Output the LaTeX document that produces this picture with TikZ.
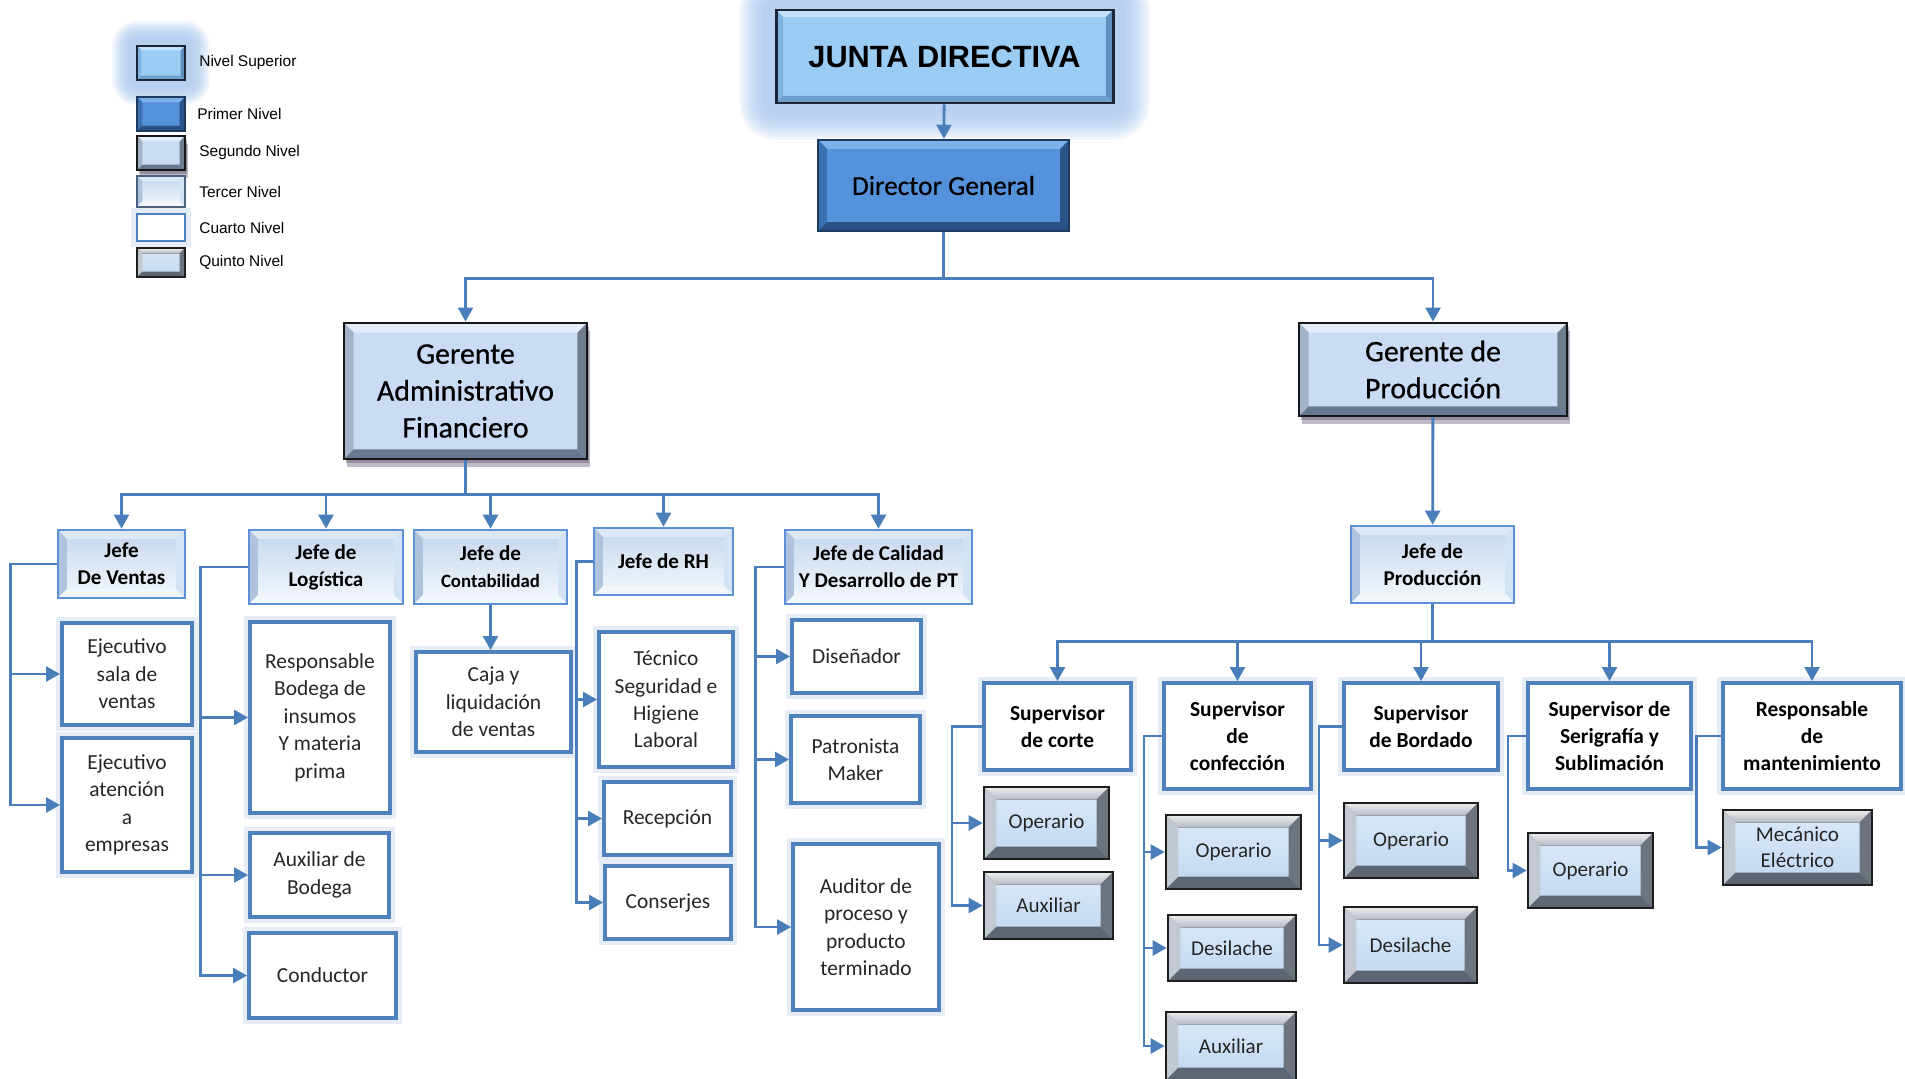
\documentclass[tikz,border=0pt]{standalone}
\usepackage{fontspec}
\setmainfont{Carlito}
\newfontfamily\arialfont{Liberation Sans}
\newfontfamily\heavyfont{Carlito}[FakeBold=0.6]
\usetikzlibrary{arrows.meta}

\newcommand{\pxu}{0.02cm}

% colours of the levels
\definecolor{lineblue}{HTML}{4A7EBB}
\definecolor{glowc}{HTML}{8FB9EC}
\definecolor{supface}{HTML}{9ACCF4}
\definecolor{supline}{HTML}{1C2538}
\definecolor{supt}{HTML}{C2E2FB}
\definecolor{supl}{HTML}{7FB2DE}
\definecolor{supr}{HTML}{5E8FBE}
\definecolor{supb}{HTML}{6F9FCC}
\definecolor{prface}{HTML}{5592DC}
\definecolor{prline}{HTML}{1E3A5F}
\definecolor{prt}{HTML}{7CB2EC}
\definecolor{prl}{HTML}{3D72B2}
\definecolor{prr}{HTML}{2B5588}
\definecolor{prb}{HTML}{2A5183}
\definecolor{sgface}{HTML}{C9DCF4}
\definecolor{sgline}{HTML}{161616}
\definecolor{sgt}{HTML}{E3EDF9}
\definecolor{sgl}{HTML}{A3B2C6}
\definecolor{sgr}{HTML}{6F7D8F}
\definecolor{sgb}{HTML}{687890}
\definecolor{sgshadow}{HTML}{4B3A5E}
\definecolor{tcline}{HTML}{5E92D6}
\definecolor{tcA}{HTML}{C4D6EC}
\definecolor{tcB}{HTML}{F4F8FD}
\definecolor{tct}{HTML}{DCE8F5}
\definecolor{tcl}{HTML}{AFC3DC}
\definecolor{tcr}{HTML}{D3E3F4}
\definecolor{tcb}{HTML}{F2F7FC}
\definecolor{culine}{HTML}{4F81BD}
\definecolor{qnline}{HTML}{1E1E1E}
\definecolor{qnA}{HTML}{DCEAF9}
\definecolor{qnB}{HTML}{C0D7F0}
\definecolor{qntA}{HTML}{EDEDED}
\definecolor{qntB}{HTML}{B5BCC5}
\definecolor{qnl}{HTML}{C3C9D0}
\definecolor{qnr}{HTML}{6D747D}
\definecolor{qnb}{HTML}{5D6672}

\tikzset{
  wh/.style 2 args={minimum width=#1*\pxu, minimum height=#2*\pxu},
  bevel/.style n args={5}{path picture={
      \path (path picture bounding box.north west) coordinate (bnw)
            (path picture bounding box.north east) coordinate (bne)
            (path picture bounding box.south west) coordinate (bsw)
            (path picture bounding box.south east) coordinate (bse);
      \fill[#2] (bnw) -- (bne) -- ([shift={(-#1,-#1)}]bne) -- ([shift={(#1,-#1)}]bnw) -- cycle;
      \fill[#3] (bnw) -- ([shift={(#1,-#1)}]bnw) -- ([shift={(#1,#1)}]bsw) -- (bsw) -- cycle;
      \fill[#4] (bne) -- ([shift={(-#1,-#1)}]bne) -- ([shift={(-#1,#1)}]bse) -- (bse) -- cycle;
      \fill[#5] (bsw) -- ([shift={(#1,#1)}]bsw) -- ([shift={(-#1,#1)}]bse) -- (bse) -- cycle;
  }},
  glowring/.style={preaction={draw=glowc, line width=#1, opacity=0.11, line join=round}},
  glow/.style={glowring=#1, glowring=0.92*#1, glowring=0.84*#1, glowring=0.76*#1,
      glowring=0.68*#1, glowring=0.6*#1, glowring=0.5*#1, glowring=0.35*#1},
  box/.style={rectangle, align=center, inner sep=2pt, text=black},
  superior/.style={box, fill=supface, draw=supline, line width=1.7pt,
      bevel={#1}{supt}{supl}{supr}{supb},
      font=\arialfont\bfseries\fontsize{17.5}{21}\selectfont},
  superior/.default=4pt,
  primer/.style={box, fill=prface, draw=prline, line width=1.4pt,
      bevel={#1}{prt}{prl}{prr}{prb}, font=\heavyfont\fontsize{15.5}{19}\selectfont},
  primer/.default=5pt,
  segundo/.style={box, fill=sgface, draw=sgline, line width=1.6pt,
      preaction={fill=sgshadow, opacity=0.35, transform canvas={xshift=1.5pt,yshift=-4.5pt}},
      preaction={fill=sgshadow, opacity=0.35, transform canvas={xshift=1pt,yshift=-2.5pt}},
      bevel={#1}{sgt}{sgl}{sgr}{sgb}, font=\heavyfont\fontsize{17}{21}\selectfont},
  segundo/.default=5.5pt,
  tercer/.style={box, top color=tcA, bottom color=tcB, draw=tcline, line width=1.5pt,
      bevel={#1}{tct}{tcl}{tcr}{tcb}, font=\bfseries\fontsize{12}{15.3}\selectfont},
  tercer/.default=5pt,
  cuarto/.style={box, fill=white, draw=culine, line width=2.2pt,
      preaction={draw=culine!14, line width=7pt},
      font=\fontsize{12.2}{15.6}\selectfont, text=black!85},
  supervisor/.style={cuarto, font=\bfseries\fontsize{12.2}{15.3}\selectfont, text=black},
  quinto/.style={box, top color=qnA, bottom color=qnB, draw=qnline, line width=1.5pt,
      bevel={#1}{{top color=qntA,bottom color=qntB}}{qnl}{qnr}{qnb},
      font=\fontsize{12}{15}\selectfont, text=black!85},
  quinto/.default=7pt,
  legend/.style={anchor=west, inner sep=0pt, font=\arialfont\fontsize{8.8}{10}\selectfont},
  conn/.style={draw=lineblue, line width=1.6pt, ->},
}

\begin{document}
\begin{tikzpicture}[x=0.02cm,y=-0.02cm,>={Triangle[length=8pt,width=8.5pt]}]
  \fill[white] (0,0) rectangle (1905,1078);
  \useasboundingbox (0,0) rectangle (1905,1078);

  % legend
  \node[superior=2.5pt, glow=28pt, line width=1.2pt, wh={48}{34}] (lsup) at (161,63) {};
  \node[primer=3pt, line width=1.2pt, wh={48}{34}] (lpri) at (161,114) {};
  \node[segundo=3pt, line width=1.2pt, wh={48}{34}] (lseg) at (161,153) {};
  \node[tercer=3pt, draw=prline!80, line width=1.2pt, wh={48}{31}] (lter) at (161,191.5) {};
  \node[cuarto, line width=1.4pt, wh={48}{27}] (lcua) at (161,227.5) {};
  \node[quinto=3pt, line width=1.2pt, wh={48}{29}] (lqui) at (161,262.5) {};
  \node[legend] (tsup) at (199,63) {Nivel Superior};
  \node[legend] (tpri) at (197,114) {Primer Nivel};
  \node[legend] (tseg) at (199,153) {Segundo Nivel};
  \node[legend] (tter) at (199,191.5) {Tercer Nivel};
  \node[legend] (tcua) at (199,227.5) {Cuarto Nivel};
  \node[legend] (tqui) at (199,262.5) {Quinto Nivel};

  % top levels
  \node[superior, glow=42pt, wh={337}{93}] (junta) at (944.5,56.5) {JUNTA DIRECTIVA};
  \node[primer, wh={251}{91}] (director) at (943.5,185.5) {Director General};
  \node[segundo, wh={243}{136}] (gadm) at (465.5,391) {Gerente\\Administrativo\\Financiero};
  \node[segundo, wh={268}{93}] (gprod) at (1433,369.5) {Gerente de\\Producción};

  % jefes
  \node[tercer, wh={127}{68}] (jven) at (121.5,564) {Jefe\\De Ventas};
  \node[tercer, wh={154}{74}] (jlog) at (326,567) {Jefe de\\Logística};
  \node[tercer, wh={153}{74}] (jcon) at (490.5,567) {Jefe de\\{\fontsize{10.7}{13}\selectfont Contabilidad}};
  \node[tercer, wh={139}{67}] (jrh) at (663.5,561.5) {Jefe de RH};
  \node[tercer, wh={187}{74}] (jcal) at (878.5,567) {Jefe de Calidad\\Y Desarrollo de PT};
  \node[tercer, wh={163}{77}] (jprod) at (1432.5,564.5) {Jefe de\\Producción};

  % administrative staff
  \node[cuarto, wh={130}{102}] (ejsala) at (127,674) {Ejecutivo\\sala de\\ventas};
  \node[cuarto, wh={130}{134}] (ejemp) at (127,805) {Ejecutivo\\atención\\a\\empresas};
  \node[cuarto, wh={140}{191}] (resp) at (320,717.5) {Responsable\\Bodega de\\insumos\\Y materia\\prima};
  \node[cuarto, wh={139}{84}] (auxb) at (319.5,875) {Auxiliar de\\Bodega};
  \node[cuarto, wh={147}{85}] (cond) at (322.5,975.5) {Conductor};
  \node[cuarto, wh={155}{100}] (caja) at (493.5,702) {Caja y\\liquidación\\de ventas};
  \node[cuarto, wh={134}{135}] (tec) at (666,699.5) {Técnico\\Seguridad e\\Higiene\\Laboral};
  \node[cuarto, wh={127}{73}] (rec) at (667.5,818.5) {Recepción};
  \node[cuarto, wh={126}{73}] (cons) at (668,902.5) {Conserjes};
  \node[cuarto, wh={129}{73}] (dis) at (856.5,656.5) {Diseñador};
  \node[cuarto, wh={129}{87}] (pat) at (855.5,759.5) {Patronista\\Maker};
  \node[cuarto, wh={146}{166}] (aud) at (866,927) {Auditor de\\proceso y\\producto\\terminado};

  % supervisors
  \node[supervisor, wh={147}{87}] (scor) at (1057.5,726.5) {Supervisor\\de corte};
  \node[supervisor, wh={147}{106}] (scon) at (1237.5,736) {Supervisor\\de\\confección};
  \node[supervisor, wh={154}{87}] (sbor) at (1421,726.5) {Supervisor\\de Bordado};
  \node[supervisor, wh={163}{106}] (sser) at (1609.5,736) {Supervisor de\\Serigrafía y\\Sublimación};
  \node[supervisor, wh={178}{106}] (rman) at (1812,736) {Responsable\\de\\mantenimiento};

  % production staff
  \node[quinto, wh={125}{72}] (op1) at (1046.5,823) {Operario};
  \node[quinto, wh={129}{67}] (aux1) at (1048.5,905.5) {Auxiliar};
  \node[quinto, wh={135}{74}] (op2) at (1233.5,852) {Operario};
  \node[quinto, wh={128}{66}] (des2) at (1232,948) {Desilache};
  \node[quinto, wh={130}{68}] (aux2) at (1231,1046) {Auxiliar};
  \node[quinto, wh={134}{75}] (op3) at (1411,840.5) {Operario};
  \node[quinto, wh={133}{76}] (des3) at (1410.5,945) {Desilache};
  \node[quinto, wh={125}{75}] (op4) at (1590.5,870.5) {Operario};
  \node[quinto, wh={149}{75}] (mec) at (1797.5,847.5) {Mecánico\\Eléctrico};

  % connectors
  \draw[conn] (junta) -- (director);
  \foreach \g in {gadm,gprod}
    \draw[conn] (director.south) -- ++(0,46) -| (\g.north);
  \foreach \j in {jven,jlog,jcon,jrh,jcal}
    \draw[conn] (gadm.south) -- ++(0,34) -| (\j.north);
  \draw[conn] (gprod) -- (jprod);
  \foreach \s in {scor,scon,sbor,sser,rman}
    \draw[conn] (jprod.south) -- ++(0,37) -| (\s.north);

  \foreach \c in {ejsala,ejemp}
    \draw[conn] (jven.west) -- ++(-46,0) |- (\c.west);
  \foreach \c in {resp,auxb,cond}
    \draw[conn] (jlog.west) -- ++(-47,0) |- (\c.west);
  \draw[conn] (jcon.south) -- (jcon.south |- caja.north);
  \foreach \c in {tec,rec,cons}
    \draw[conn] (jrh.west) -- ++(-16,0) |- (\c.west);
  \foreach \c in {dis,pat,aud}
    \draw[conn] (jcal.west) -- ++(-28,0) |- (\c.west);

  \foreach \c in {op1,aux1}
    \draw[conn] (scor.west) -- ++(-30,0) |- (\c.west);
  \foreach \c in {op2,des2,aux2}
    \draw[conn] (scon.west) -- ++(-18,0) |- (\c.west);
  \foreach \c in {op3,des3}
    \draw[conn] (sbor.west) -- ++(-23,0) |- (\c.west);
  \draw[conn] (sser.west) -- ++(-18,0) |- (op4.west);
  \draw[conn] (rman.west) -- ++(-25,0) |- (mec.west);
\end{tikzpicture}
\end{document}
